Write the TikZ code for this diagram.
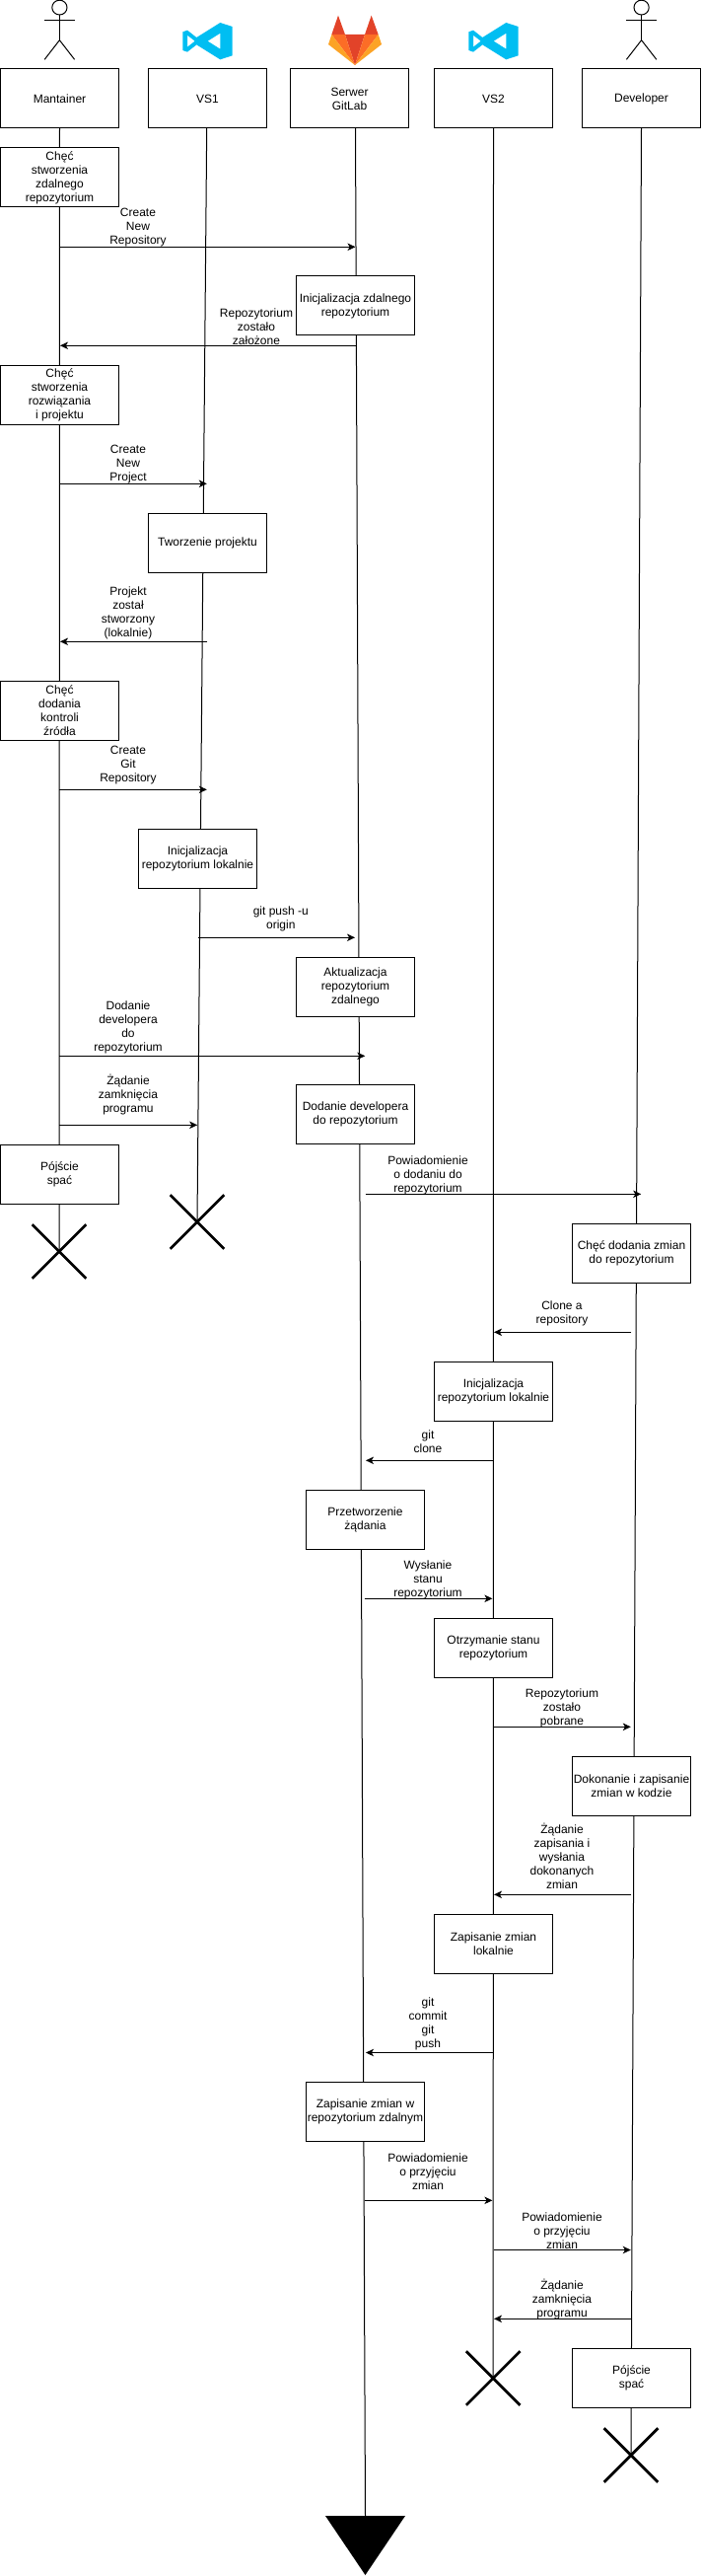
\documentclass[tikz,border=0pt]{standalone}
\usepackage{fontspec}
\setmainfont{Liberation Sans}
\usetikzlibrary{arrows.meta,shapes.misc,backgrounds}
\definecolor{vsblue}{HTML}{00BEF2}
\definecolor{glred}{HTML}{E24329}
\definecolor{glorange}{HTML}{FC6D26}
\definecolor{glyellow}{HTML}{FCA326}
\tikzset{
  bx/.style={draw=black,fill=white,line width=0.75pt,minimum width=90pt,minimum height=45pt,inner sep=0pt,outer sep=0pt,align=center,font=\fontsize{9}{10.5}\selectfont},
  lbl/.style={inner sep=0pt,outer sep=0pt,align=center,font=\fontsize{9}{10.5}\selectfont},
  msgline/.style={draw=black,line width=0.75pt,-{Stealth[length=6pt,width=5.6pt,inset=1.6pt]}},
  lifeline/.style={draw=black,line width=0.75pt},
  endx/.style={draw=black,cross out,line width=2.1pt,minimum width=41pt,minimum height=41pt,inner sep=0pt,outer sep=0pt},
  stick/.style={draw=black,line width=0.75pt}
}
\newcommand{\msgarrow}[4]{%
  \coordinate (#1a) at (#2,#4);
  \coordinate (#1b) at (#3,#4);
  \draw[msgline] (#1a) -- (#1b);
}
\newcommand{\stickfig}[1]{%
  \begin{scope}[shift={(#1,0)}]
    \draw[stick] (0,7.6) ellipse (7.6 and 7.4);
    \draw[stick] (0,15) -- (0,40.7);
    \draw[stick] (-15.2,20.3) -- (15.2,20.3);
    \draw[stick] (-15.2,60.3) -- (0,40.7) -- (15.2,60.3);
  \end{scope}
}
\newcommand{\vslogo}[1]{%
  \begin{scope}[shift={(#1,0)},x=0.25pt,y=-0.25pt]
    \fill[vsblue,even odd rule]
      (160,69) -- (197,81) -- (197,169) -- (160,181) -- (88,136) -- (60,158) -- (46,153) -- (46,97) -- (60,92) -- (88,114) -- cycle
      (60,107) -- (60,143) -- (83,125) -- cycle
      (160,101) -- (160,149) -- (122,125) -- cycle;
  \end{scope}
}
\begin{document}
\begin{tikzpicture}[x=0.75pt,y=-0.75pt]
\useasboundingbox (0,0) rectangle (711,2611);

% actors and logos
\stickfig{60.4}
\stickfig{650.6}
\vslogo{170}
\vslogo{460}
\begin{scope}[shift={(170,0)},x=0.25pt,y=-0.25pt]
  \fill[glred] (519,47) -- (499,105) -- (540,105) -- cycle;
  \fill[glred] (620,47) -- (600,105) -- (641,105) -- cycle;
  \fill[glred] (540,105) -- (600,105) -- (570,198) -- cycle;
  \fill[glorange] (499,105) -- (540,105) -- (570,198) -- cycle;
  \fill[glorange] (641,105) -- (600,105) -- (570,198) -- cycle;
  \fill[glyellow] (499,105) -- (489,135) -- (570,198) -- cycle;
  \fill[glyellow] (641,105) -- (651,135) -- (570,198) -- cycle;
\end{scope}

% header boxes
\node[bx] (mant) at (60.5,100) {Mantainer};
\node[bx] (vs1) at (210.5,100) {VS1};
\node[bx] (serwer) at (354.5,100) {Serwer\\GitLab};
\node[bx] (vs2) at (500.5,100) {VS2};
\node[bx] (dev) at (650.5,100) {Developer};

% activity boxes
\node[bx] (a1) at (60.5,180) {Chęć\\stworzenia\\zdalnego\\repozytorium};
\node[bx] (a2) at (360.5,310) {Inicjalizacja zdalnego\\repozytorium};
\node[bx] (a3) at (60.5,400) {Chęć\\stworzenia\\rozwiązania\\i projektu};
\node[bx] (a4) at (210.5,550) {Tworzenie projektu};
\node[bx] (a5) at (60.5,720) {Chęć\\dodania\\kontroli\\źródła};
\node[bx] (a6) at (200.5,870) {Inicjalizacja\\repozytorium lokalnie};
\node[bx] (a7) at (360.5,1000) {Aktualizacja\\repozytorium\\zdalnego};
\node[bx] (a8) at (360.5,1129.5) {Dodanie developera\\do repozytorium};
\node[bx] (a9) at (60.5,1190) {Pójście\\spać};
\node[bx] (a10) at (640.5,1270) {Chęć dodania zmian\\do repozytorium};
\node[bx] (a11) at (500.5,1410) {Inicjalizacja\\repozytorium lokalnie};
\node[bx] (a12) at (370.5,1540) {Przetworzenie\\żądania};
\node[bx] (a13) at (500.5,1670) {Otrzymanie stanu\\repozytorium};
\node[bx] (a14) at (640.5,1810) {Dokonanie i zapisanie\\zmian w kodzie};
\node[bx] (a15) at (500.5,1970) {Zapisanie zmian\\lokalnie};
\node[bx] (a16) at (370.5,2140) {Zapisanie zmian w\\repozytorium zdalnym};
\node[bx] (a17) at (640.5,2410) {Pójście\\spać};

% lifeline ends
\node[endx] (xm) at (60,1268.5) {};
\node[endx] (xv1) at (200,1238.5) {};
\node[endx] (xv2) at (500.2,2410.5) {};
\node[endx] (xd) at (640,2488.5) {};
\fill[black] (330,2550) -- (411,2550) -- (370.5,2610) -- cycle;
\coordinate (send) at (370.5,2550);
\coordinate (sstart) at (360.5,130);
\coordinate (v1start) at (209.7,130);

\begin{scope}[on background layer]
  \draw[lifeline] (mant.south) -- (xm.center);
  \draw[lifeline] (v1start) -- (xv1.center);
  \draw[lifeline] (sstart) -- (send);
  \draw[lifeline] (vs2.south) -- (xv2.center);
  \draw[lifeline] (dev.south) -- (xd.center);
\end{scope}

% messages
\msgarrow{m1}{60.3}{360.5}{250.3}
\node[lbl] (l1) at (140,230.7) {Create\\New\\Repository};
\msgarrow{m2}{360.5}{61}{350.3}
\node[lbl] (l2) at (260,331) {Repozytorium\\zostało\\założone};
\msgarrow{m3}{60.3}{209.8}{490.3}
\node[lbl] (l3) at (130,470.7) {Create\\New\\Project};
\msgarrow{m4}{210.4}{61}{650.3}
\node[lbl] (l4) at (130,621) {Projekt\\został\\stworzony\\(lokalnie)};
\msgarrow{m5}{60.3}{209.8}{800.3}
\node[lbl] (l5) at (130,776) {Create\\Git\\Repository};
\msgarrow{m6}{200.5}{360}{950.3}
\node[lbl] (l6) at (284.8,931) {git push -u\\origin};
\msgarrow{m7}{60.3}{370.3}{1070.3}
\node[lbl] (l7) at (130,1041) {Dodanie\\developera\\do\\repozytorium};
\msgarrow{m8}{60.3}{200.2}{1140.3}
\node[lbl] (l8) at (130,1110) {Żądanie\\zamknięcia\\programu};
\msgarrow{m9}{370.5}{650.2}{1210.3}
\node[lbl] (l9) at (434,1191) {Powiadomienie\\o dodaniu do\\repozytorium};
\msgarrow{m10}{640.4}{501}{1350.3}
\node[lbl] (l10) at (570,1331) {Clone a\\repository};
\msgarrow{m11}{500.7}{371}{1480.3}
\node[lbl] (l11) at (434,1461) {git\\clone};
\msgarrow{m12}{369.6}{499.4}{1620.3}
\node[lbl] (l12) at (434,1601) {Wysłanie\\stanu\\repozytorium};
\msgarrow{m13}{500.5}{639.8}{1750.3}
\node[lbl] (l13) at (570,1731) {Repozytorium\\zostało\\pobrane};
\msgarrow{m14}{640.4}{501}{1920.3}
\node[lbl] (l14) at (570,1881) {Żądanie\\zapisania i\\wysłania\\dokonanych\\zmian};
\msgarrow{m15}{500.7}{371}{2080.5}
\node[lbl] (l15) at (434,2051) {git\\commit\\git\\push};
\msgarrow{m16}{369.6}{499.4}{2230.3}
\node[lbl] (l16) at (434,2201) {Powiadomienie\\o przyjęciu\\zmian};
\msgarrow{m17}{500.5}{639.8}{2280.5}
\node[lbl] (l17) at (570,2261) {Powiadomienie\\o przyjęciu\\zmian};
\msgarrow{m18}{640.4}{501}{2350.3}
\node[lbl] (l18) at (570,2331) {Żądanie\\zamknięcia\\programu};
\end{tikzpicture}
\end{document}
